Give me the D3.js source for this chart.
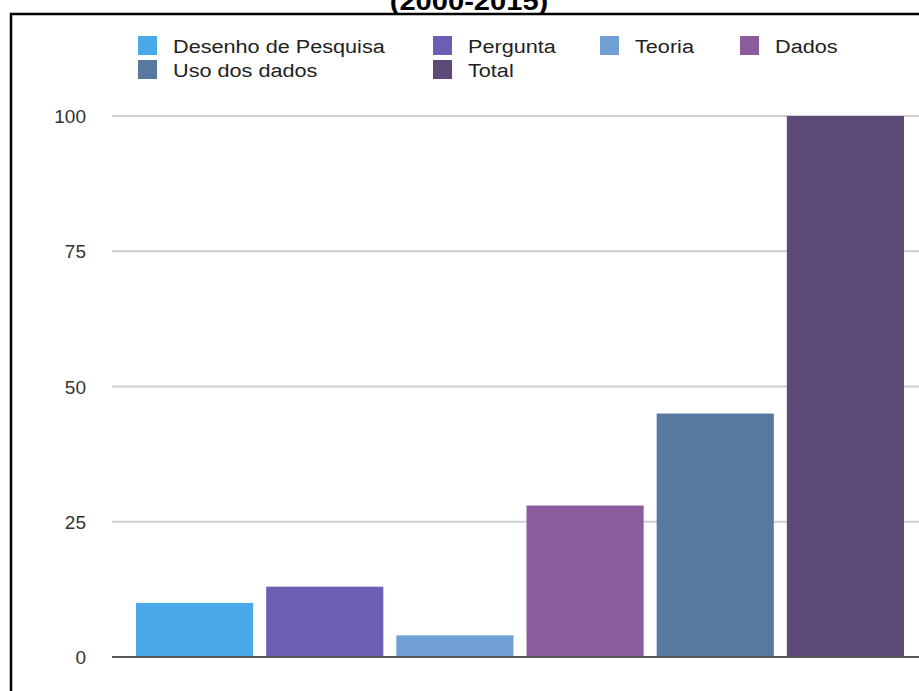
<!DOCTYPE html>
<html>
<head>
<meta charset="utf-8">
<script src="https://cdn.jsdelivr.net/npm/d3@7"></script>
<style>
  html, body { margin: 0; padding: 0; background: #fff; }
  svg { display: block; font-family: "Liberation Sans", Arial, Helvetica, sans-serif; }
</style>
</head>
<body>
<svg id="chart" width="919" height="691"></svg>
<script>
const title = "(2000-2015)";
const categories = ["Desenho de Pesquisa", "Pergunta", "Teoria", "Dados", "Uso dos dados", "Total"];
const values = [10, 13, 4, 28, 45, 100];
const colors = ["#4aa9e8", "#6c5fb3", "#71a0d4", "#8a5b9d", "#57789f", "#5d4a77"];
const yTicks = [0, 25, 50, 75, 100];

const svg = d3.select("#chart");
const W = 919, H = 691;

// frame
svg.append("rect").attr("x", 11).attr("y", 14).attr("width", W + 20).attr("height", H + 20)
  .attr("fill", "none").attr("stroke", "#000").attr("stroke-width", 2.5);

// title (mostly cut off at the top)
svg.append("text").attr("x", 469).attr("y", 10).attr("text-anchor", "middle")
  .attr("font-size", 26).attr("font-weight", "bold").attr("fill", "#000")
  .attr("transform", "translate(469,0) scale(1.12,1) translate(-469,0)")
  .text(title);

const x = d3.scaleBand().domain(categories).range([129.5, 910.5])
  .paddingInner(0.1).paddingOuter(0.05);
const y = d3.scaleLinear().domain([0, 100]).range([657, 116]);

// gridlines
svg.append("g").selectAll("line").data(yTicks.filter(t => t > 0)).join("line")
  .attr("x1", 112).attr("x2", W).attr("y1", d => y(d)).attr("y2", d => y(d))
  .attr("stroke", "#cfcfcf").attr("stroke-width", 2);

// y axis labels
const yAxis = d3.axisLeft(y).tickValues(yTicks).tickSize(0).tickPadding(0);
const gy = svg.append("g").attr("transform", "translate(86,0)").call(yAxis);
gy.select(".domain").remove();
gy.selectAll("text").attr("font-size", 19).attr("fill", "#333")
  .attr("font-family", "'Liberation Sans', Arial, sans-serif").attr("dy", "0.35em");

// bars
svg.append("g").selectAll("rect").data(categories).join("rect")
  .attr("x", d => x(d)).attr("width", x.bandwidth())
  .attr("y", (d, i) => y(values[i])).attr("height", (d, i) => y(0) - y(values[i]))
  .attr("fill", (d, i) => colors[i]);

// baseline
svg.append("line").attr("x1", 112).attr("x2", W).attr("y1", y(0)).attr("y2", y(0))
  .attr("stroke", "#555").attr("stroke-width", 2);

// legend
const legendPos = [
  [138, 36], [433, 36], [600, 36], [740, 36],
  [138, 60], [433, 60]
];
const lg = svg.append("g");
categories.forEach((c, i) => {
  const [lx, ly] = legendPos[i];
  lg.append("rect").attr("x", lx).attr("y", ly).attr("width", 19).attr("height", 19)
    .attr("fill", colors[i]);
  const tx = lx + 35, ty = ly + 17;
  lg.append("text").attr("x", 0).attr("y", 0)
    .attr("transform", `translate(${tx},${ty}) scale(1.14,1)`)
    .attr("font-size", 19).attr("fill", "#222").text(c);
});
</script>
</body>
</html>
